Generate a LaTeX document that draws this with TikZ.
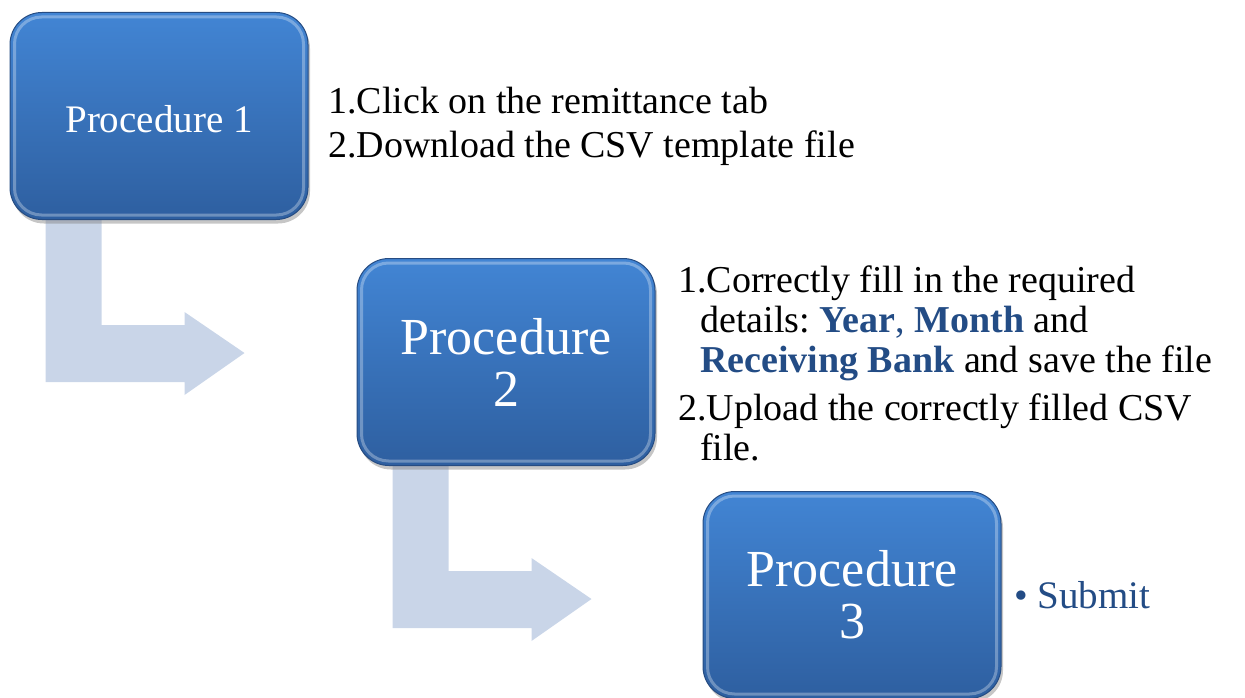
\documentclass[tikz,border=0pt]{standalone}
\usepackage{fontspec}
\setmainfont{Liberation Serif}
\usetikzlibrary{calc,shadows,backgrounds,positioning}
\frenchspacing

\definecolor{boxtop}{RGB}{66,133,212}
\definecolor{boxbot}{RGB}{46,95,160}
\definecolor{boxedge}{RGB}{38,76,130}
\definecolor{elbowblue}{RGB}{201,213,232}
\definecolor{keyblue}{RGB}{35,76,133}

\tikzset{
  procbox/.style={rounded corners=32pt, minimum width=298pt, minimum height=207pt,
    top color=boxtop, bottom color=boxbot, draw=boxedge, line width=1pt,
    drop shadow={shadow xshift=2pt,shadow yshift=-4pt,opacity=.45},
    text=white, align=center, inner sep=0pt},
  elbow/.style={fill=elbowblue},
  steps/.style={align=left, inner sep=0pt, anchor=north west}
}

\begin{document}
\begin{tikzpicture}[x=1pt,y=-1pt]
\useasboundingbox (0,0) rectangle (1245,698);

% procedure boxes
\node[procbox, font=\fontsize{39}{44}\selectfont, text height=34pt, text depth=0pt] (p1) at (159,116) {Procedure 1};
\node[procbox, font=\fontsize{52}{52}\selectfont] (p2) at (506,362) {Procedure\\2};
\node[procbox, font=\fontsize{52}{52}\selectfont] (p3) at (852,595) {Procedure\\3};

% glossy rim
\foreach \b in {p1,p2,p3}
  \draw[white, opacity=.3, line width=3pt, rounded corners=27pt]
    ($(\b.south west)+(5,-5)$) rectangle ($(\b.north east)+(-5,5)$);

% elbow arrows
\begin{scope}[on background layer]
\foreach \b in {p1,p2}
  \fill[elbow] ($(\b.south west)+(36,0)$) -- ++(0,162) -- ++(139,0) -- ++(0,13)
    -- ++(60,-42) -- ++(-60,-41) -- ++(0,13) -- ++(-83,0) -- ++(0,-105) -- cycle;
\end{scope}

% step texts
\node[steps, font=\fontsize{38}{44}\selectfont] (s1) at (328,87)
  {1.Click on the remittance tab\\2.Download the CSV template file};
\node[steps, font=\fontsize{38}{40}\selectfont] (s2) at (678,266)
  {1.Correctly fill in the required\\
   \hspace*{22pt}details: \textcolor{keyblue}{\textbf{Year}, \textbf{Month}} and\\
   \hspace*{22pt}\textcolor{keyblue}{\textbf{Receiving Bank}} and save the file\\[8pt]
   2.Upload the correctly filled CSV\\
   \hspace*{22pt}file.};
\node[font=\fontsize{39}{44}\selectfont, text=keyblue, anchor=base west, inner sep=0pt]
  (s3) at (1014,608) {• Submit};
\end{tikzpicture}
\end{document}
